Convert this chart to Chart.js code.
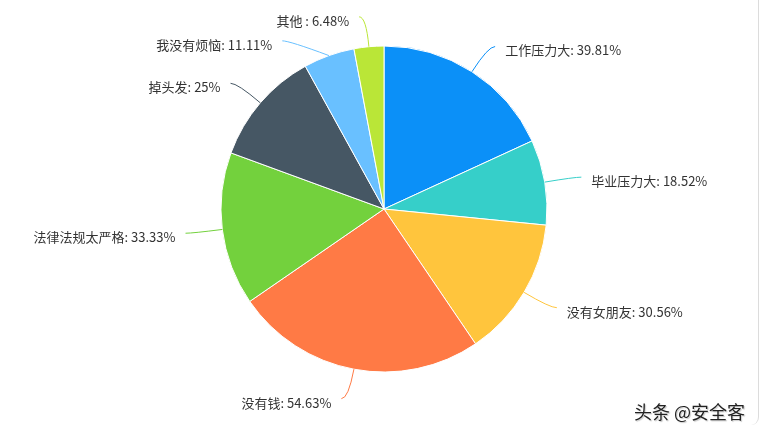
<!DOCTYPE html>
<html>
<head>
<meta charset="utf-8">
<script src="https://cdn.jsdelivr.net/npm/chart.js@4"></script>
<style>
  html, body { margin: 0; padding: 0; background: #fff; }
  #wrap { position: relative; width: 767px; height: 432px; overflow: hidden; }
  #frame { position: absolute; left: 0; top: -4px; width: 758px; height: 429px;
           border-right: 1px solid #dcdcdc; border-bottom-right-radius: 8px; pointer-events: none; }
  #mark { position: absolute; left: 634px; top: 398px; font: 18px "Noto Sans CJK SC", sans-serif;
          color: #222; text-shadow: 0 0 2px #fff, 1px 1px 1px #bbb; white-space: pre; }
</style>
</head>
<body>
<div id="wrap">
  <canvas id="pie" width="767" height="432"></canvas>
  <div id="frame"></div>
  <div id="mark">头条 @安全客</div>
</div>
<script>
const labels = ['工作压力大', '毕业压力大', '没有女朋友', '没有钱', '法律法规太严格', '掉头发', '我没有烦恼', '其他 '];
const values = [39.81, 18.52, 30.56, 54.63, 33.33, 25, 11.11, 6.48];
const colors = ['#0b90f8', '#36cfc9', '#ffc53d', '#ff7a45', '#73d13d', '#465764', '#69c0ff', '#bae637'];

// подписи снаружи с выносными линиями
const LINE1 = 30, LINE2 = 7, GAP = 10, MIN_GAP = 24;

const outLabels = {
    id: 'outLabels',
    afterDatasetsDraw(chart) {
        const ctx = chart.ctx;
        const meta = chart.getDatasetMeta(0);
        const items = meta.data.map((arc, i) => {
            const mid = (arc.startAngle + arc.endAngle) / 2;
            const r = arc.outerRadius;
            return {
                i, cx: arc.x, cy: arc.y, r,
                right: Math.cos(mid) >= 0,
                x0: arc.x + Math.cos(mid) * r,
                y0: arc.y + Math.sin(mid) * r,
                y1: arc.y + Math.sin(mid) * (r + LINE1)
            };
        });

        [true, false].forEach(side => {
            const list = items.filter(it => it.right === side).sort((a, b) => a.y1 - b.y1);
            for (let k = 1; k < list.length; k++) {
                if (list[k].y1 - list[k - 1].y1 < MIN_GAP) list[k].y1 = list[k - 1].y1 + MIN_GAP;
            }
        });

        ctx.save();
        ctx.font = '13px "Noto Sans CJK SC", sans-serif';
        ctx.textBaseline = 'middle';
        items.forEach(it => {
            const R = it.r + LINE1;
            const dy = it.y1 - it.cy;
            const dx = Math.sqrt(Math.max(R * R - dy * dy, 0));
            const x1 = it.cx + (it.right ? dx : -dx);
            const x2 = x1 + (it.right ? LINE2 : -LINE2);

            ctx.strokeStyle = colors[it.i];
            ctx.lineWidth = 1;
            ctx.beginPath();
            ctx.moveTo(it.x0, it.y0);
            ctx.quadraticCurveTo(x1, it.y1, x2, it.y1);
            ctx.stroke();

            ctx.fillStyle = '#333';
            ctx.textAlign = it.right ? 'left' : 'right';
            ctx.fillText(labels[it.i] + ': ' + values[it.i] + '%', x2 + (it.right ? GAP : -GAP), it.y1 + 4);
        });
        ctx.restore();
    }
};

new Chart(document.getElementById('pie'), {
    type: 'pie',
    data: {
        labels: labels,
        datasets: [{
            data: values,
            backgroundColor: colors,
            borderColor: '#fff',
            borderWidth: 1,
            hoverOffset: 0
        }]
    },
    options: {
        responsive: false,
        animation: false,
        radius: 163,
        layout: { padding: { top: 46, bottom: 60, left: 1, right: 0 } },
        plugins: {
            legend: { display: false },
            tooltip: { enabled: false }
        }
    },
    plugins: [outLabels]
});
</script>
</body>
</html>
